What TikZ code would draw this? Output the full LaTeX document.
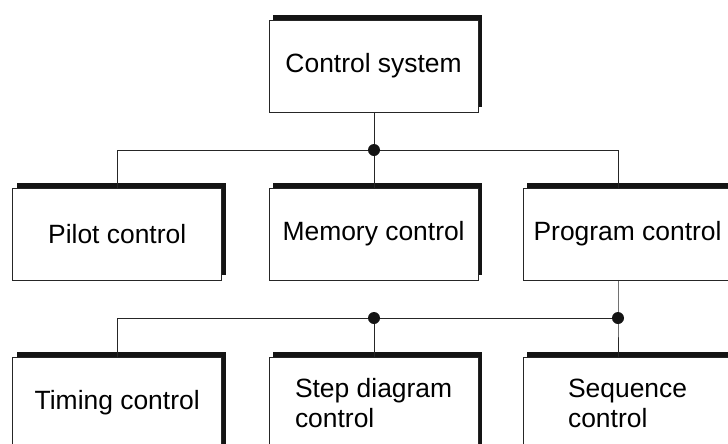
\documentclass[tikz,border=0pt]{standalone}
\usepackage{fontspec}
\setmainfont{Liberation Sans}
\usetikzlibrary{calc,positioning,shadows}
\definecolor{ctrlLine}{HTML}{262626}
\tikzset{
  ctrlBox/.style={draw=ctrlLine, fill=white, line width=0.7pt, minimum width=5.22cm, minimum height=2.3cm, inner sep=0pt, align=center, font=\fontsize{18.8}{21.3}\selectfont, drop shadow={shadow xshift=0.1cm, shadow yshift=0.115cm, fill=black!92, opacity=1}},
  ctrlTwoLine/.style={ctrlBox, align=left},
  ctrlLink/.style={draw=ctrlLine, line width=0.7pt},
  ctrlDot/.style={circle, fill=black!92, inner sep=0pt, minimum size=0.3cm}
}

\begin{document}
\begin{tikzpicture}
      \useasboundingbox (0,0) rectangle (18.2,-11.075);
      \clip (0,0) rectangle (18.2,-11.075);
      % boxes
      \node[ctrlBox] (sys) at (9.34,-1.65) {Control system};
      \node[ctrlBox] (pilot) at (2.93,-5.85) {Pilot control};
      \node[ctrlBox] (memory) at (9.34,-5.85) {Memory control};
      \node[ctrlBox] (program) at (15.69,-5.85) {Program control};
      \node[ctrlBox] (timing) at (2.93,-10.075) {\raisebox{0.1cm}{Timing control}};
      \node[ctrlTwoLine] (stepdiag) at (9.34,-10.075) {Step diagram\\control};
      \node[ctrlTwoLine] (sequence) at (15.69,-10.075) {Sequence\\control};
      % junctions
      \coordinate (jSys) at (9.35,-3.75);
      \coordinate (jProg) at (15.45,-3.75);
      \coordinate (jStep) at (9.35,-7.95);
      \coordinate (jSeq) at (15.45,-7.95);
      % links
      \draw[ctrlLink] (sys.south -| jSys) -- (jSys);
      \draw[ctrlLink] (pilot.north) |- (jProg) -- (jProg |- program.north);
      \draw[ctrlLink] (jSys) -- (jSys |- memory.north);
      \draw[ctrlLink] (program.south -| jSeq) -- (jSeq) -- (jSeq |- sequence.north);
      \draw[ctrlLink] (timing.north) |- (jSeq);
      \draw[ctrlLink] (jStep) -- (jStep |- stepdiag.north);
      \node[ctrlDot] (dotSys) at (jSys) {};
      \node[ctrlDot] (dotStep) at (jStep) {};
      \node[ctrlDot] (dotSeq) at (jSeq) {};
    \end{tikzpicture}
\end{document}
